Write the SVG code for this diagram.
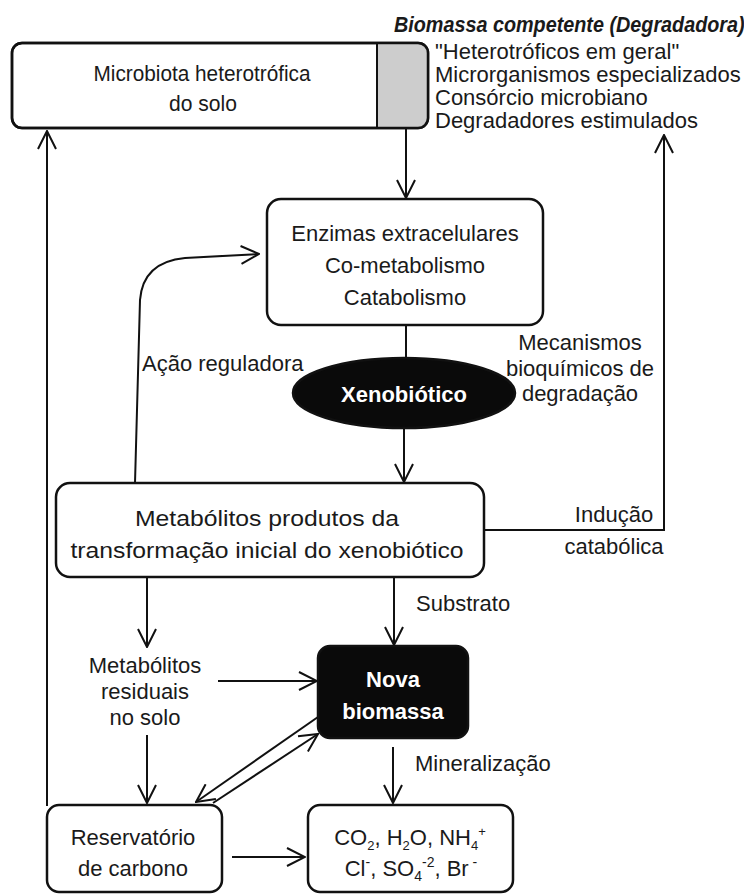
<svg xmlns="http://www.w3.org/2000/svg" width="744" height="895" viewBox="0 0 744 895">
<defs>
<marker id="arr" viewBox="0 0 20 20" refX="19" refY="10" markerWidth="20" markerHeight="20" markerUnits="userSpaceOnUse" orient="auto">
<path d="M1,1 L19,10 L1,19" fill="none" stroke="#111" stroke-width="2"/>
</marker>
<style>
text{font-family:"Liberation Sans",Arial,sans-serif;fill:#1a1a1a;font-size:22px}
.box{fill:#fff;stroke:#111;stroke-width:2.5}
.dark{fill:#0a0a0a;stroke:#111;stroke-width:2.5}
.c{text-anchor:middle}
.w{fill:#fff;font-weight:bold}
.conn line,.conn path{stroke:#111;stroke-width:2;fill:none}
</style>
</defs>
<rect width="744" height="895" fill="#fff"/>

<g id="title">
<text transform="translate(394,32) scale(0.9,1)" x="0" y="0" font-size="21.5" font-weight="bold" font-style="italic">Biomassa competente (Degradadora)</text>
</g>

<g id="microbiota">
<rect class="box" x="12" y="43" width="416" height="85" rx="10"/>
<path d="M377,43 H418 A10,10 0 0 1 428,53 V118 A10,10 0 0 1 418,128 H377 Z" fill="#cdcdcd"/>
<rect x="12" y="43" width="416" height="85" rx="10" fill="none" stroke="#111" stroke-width="2.5"/>
<line x1="377" y1="43" x2="377" y2="128" stroke="#111" stroke-width="2"/>
<text class="c" x="202" y="81" font-size="22.5" textLength="217" lengthAdjust="spacingAndGlyphs">Microbiota heterotrófica</text>
<text class="c" x="203" y="111" font-size="22.5" textLength="68" lengthAdjust="spacingAndGlyphs">do solo</text>
</g>

<g id="lista">
<text x="435" y="59" font-size="20">"Heterotróficos em geral"</text>
<text x="435" y="82" font-size="20">Microrganismos especializados</text>
<text x="435" y="105" font-size="20">Consórcio microbiano</text>
<text x="435" y="128" font-size="20">Degradadores estimulados</text>
</g>

<g id="enzimas">
<rect class="box" x="267" y="199" width="276" height="126" rx="14"/>
<text class="c" x="405" y="241">Enzimas extracelulares</text>
<text class="c" x="405" y="273">Co-metabolismo</text>
<text class="c" x="405" y="305">Catabolismo</text>
</g>

<g id="xenobiotico">
<ellipse class="dark" cx="404" cy="393" rx="111" ry="35"/>
<text class="c w" x="404" y="402" font-size="21">Xenobiótico</text>
</g>

<g id="mecanismos">
<text class="c" x="580" y="350">Mecanismos</text>
<text class="c" x="580" y="376">bioquímicos de</text>
<text class="c" x="580" y="401">degradação</text>
</g>

<g id="acao">
<text x="142" y="371">Ação reguladora</text>
</g>

<g id="metabolitos">
<rect class="box" x="56" y="483" width="428" height="94" rx="14"/>
<text class="c" x="267" y="526" font-size="25.5" textLength="264" lengthAdjust="spacingAndGlyphs">Metabólitos produtos da</text>
<text class="c" x="267" y="558" font-size="25.5" textLength="393" lengthAdjust="spacingAndGlyphs">transformação inicial do xenobiótico</text>
</g>

<g id="inducao">
<text class="c" x="614" y="522">Indução</text>
<text class="c" x="614" y="554">catabólica</text>
</g>

<g id="substrato">
<text x="416" y="611" font-size="21">Substrato</text>
</g>

<g id="residuais">
<text class="c" x="145" y="673">Metabólitos</text>
<text class="c" x="145" y="699">residuais</text>
<text class="c" x="145" y="725">no solo</text>
</g>

<g id="nova">
<rect class="dark" x="318" y="646" width="150" height="92" rx="12"/>
<text class="c w" x="393" y="687">Nova</text>
<text class="c w" x="393" y="719">biomassa</text>
</g>

<g id="mineralizacao">
<text x="415" y="771">Mineralização</text>
</g>

<g id="reservatorio">
<rect class="box" x="47" y="805" width="175" height="87" rx="12"/>
<text class="c" x="133" y="845">Reservatório</text>
<text class="c" x="133" y="876">de carbono</text>
</g>

<g id="produtos">
<rect class="box" x="308" y="805" width="205" height="87" rx="12"/>
<text class="c" x="410" y="845" font-size="20.5">CO<tspan dy="5" font-size="13">2</tspan><tspan dy="-5">, H</tspan><tspan dy="5" font-size="13">2</tspan><tspan dy="-5">O, NH</tspan><tspan dy="5" font-size="13">4</tspan><tspan dy="-14" font-size="13">+</tspan></text>
<text class="c" x="411" y="876" font-size="21">Cl<tspan dy="-9" font-size="14">-</tspan><tspan dy="9">, SO</tspan><tspan dy="5" font-size="14">4</tspan><tspan dy="-14" font-size="14">-2</tspan><tspan dy="9">, Br</tspan><tspan dy="-9" font-size="14"> -</tspan></text>
</g>

<g id="connectors" class="conn">
<line x1="406" y1="128" x2="406" y2="198" marker-end="url(#arr)"/>
<line x1="406" y1="325" x2="406" y2="358"/>
<line x1="404" y1="428" x2="404" y2="482" marker-end="url(#arr)"/>
<path d="M135,483 L140,300 Q143,262 185,258 L259,254" marker-end="url(#arr)"/>
<path d="M484,530 L664,530 L664,135" marker-end="url(#arr)"/>
<line x1="147" y1="577" x2="147" y2="647" marker-end="url(#arr)"/>
<line x1="394" y1="577" x2="394" y2="645" marker-end="url(#arr)"/>
<line x1="218" y1="681" x2="317" y2="681" marker-end="url(#arr)"/>
<line x1="147" y1="735" x2="147" y2="803" marker-end="url(#arr)"/>
<line x1="393" y1="747" x2="393" y2="803" marker-end="url(#arr)"/>
<line x1="318" y1="717" x2="196" y2="802" marker-end="url(#arr)"/>
<line x1="213" y1="803" x2="318" y2="734" marker-end="url(#arr)"/>
<line x1="232" y1="857" x2="305" y2="857" marker-end="url(#arr)"/>
<line x1="47" y1="806" x2="47" y2="131" marker-end="url(#arr)"/>
</g>
</svg>
